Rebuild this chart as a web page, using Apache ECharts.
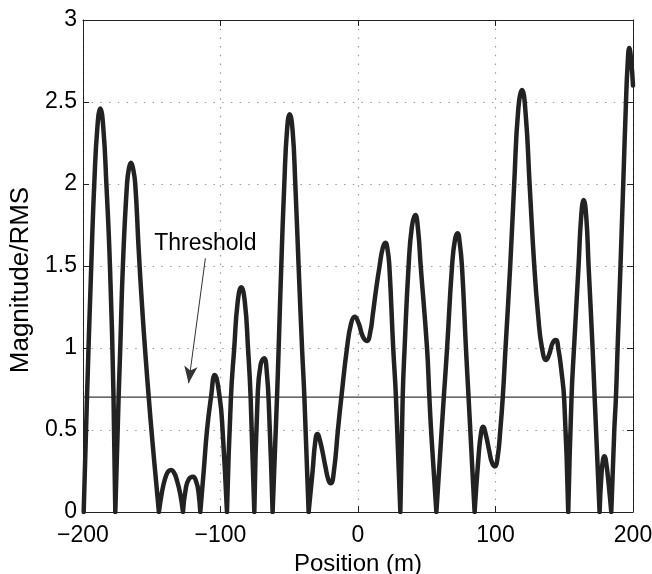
<!DOCTYPE html>
<html><head><meta charset="utf-8">
<script src="https://cdn.jsdelivr.net/npm/echarts@6/dist/echarts.min.js"></script>
<style>html,body{margin:0;padding:0;background:#fff}#c{width:652px;height:574px}</style>
</head><body><div id="c"></div>
<script>
// ---- data ----
const positions = [
  -199.5,-197.1,-194.0,-191.8,-189.5,-187.4,-185.3,-183.0,-180.4,-177.8,-176.5,
  -174.1,-172.9,-171.0,-168.0,-166.5,-165.1,-163.5,-162.0,-159.5,-157.0,-154.5,-152.0,-149.5,-147.0,-144.8,
  -142.6,-140.4,-138.2,-136.0,-133.8,-131.6,-129.4,-127.3,
  -125.3,-123.0,-120.0,-117.5,-116.0,-114.7,
  -112.2,-109.8,-106.9,-104.2,-100.6,-98.5,-95.3,
  -92.4,-90.0,-87.5,-84.9,-82.3,-80.0,-78.1,-75.4,
  -73.0,-70.8,-68.3,-66.3,-64.6,-62.1,
  -58.9,-57.7,-55.8,-53.6,-51.6,-49.7,-47.6,-45.6,-43.2,-40.7,-39.0,-35.9,
  -33.0,-31.2,-29.6,-27.2,-23.8,-21.5,-19.8,-17.5,-14.6,-12.1,-8.0,-5.0,-2.4,0.5,3.5,6.5,9.0,10.7,13.2,15.7,18.0,19.9,21.5,22.8,25.6,27.6,30.8,
  32.5,33.9,36.8,39.2,41.7,43.7,45.6,50.2,51.9,53.5,57.0,
  59.7,62.4,64.8,68.4,70.5,72.4,74.0,75.6,78.5,80.4,84.8,
  87.5,89.3,91.0,93.0,95.5,97.5,99.5,101.5,103.5,105.3,107.3,110.7,113.6,116.5,119.3,122.0,124.8,128.2,131.0,133.8,136.9,139.0,141.5,143.9,145.8,147.8,150.0,152.9,
  155.3,157.1,160.4,162.3,164.1,166.0,167.7,170.6,172.1,175.7,
  177.0,178.2,179.3,180.5,182.3,184.2,
  186.4,187.6,188.8,190.9,192.9,194.9,196.1,197.3,198.6,200.0
];
const magnitudes = [
  0,0.7,1.5,2.0,2.35,2.46,2.35,2.0,1.5,0.7,0,
  0.7,1.0,1.5,2.0,2.1,2.13,2.09,2.0,1.6,1.25,0.95,0.68,0.43,0.2,0,
  0.12,0.2,0.245,0.256,0.24,0.19,0.115,0,
  0.14,0.2,0.215,0.18,0.12,0,
  0.25,0.5,0.7,0.835,0.7,0.5,0,
  0.7,1.0,1.28,1.37,1.28,1.0,0.7,0,
  0.7,0.9,0.937,0.85,0.6,0,
  0.7,1.0,1.5,2.0,2.33,2.425,2.33,2.0,1.5,1.0,0.7,0,
  0.25,0.42,0.476,0.42,0.28,0.195,0.175,0.25,0.5,0.7,1.0,1.15,1.19,1.15,1.07,1.043,1.1,1.2,1.36,1.5,1.61,1.642,1.6,1.5,1.0,0.7,0,
  0.7,1.0,1.5,1.74,1.811,1.72,1.5,1.0,0.7,0.45,0,
  0.35,0.7,1.0,1.5,1.66,1.70,1.64,1.5,1.0,0.7,0,
  0.32,0.47,0.52,0.47,0.37,0.3,0.278,0.33,0.5,0.7,1.0,1.5,2.0,2.45,2.573,2.42,2.0,1.5,1.2,1.0,0.927,0.96,1.03,1.049,0.99,0.87,0.68,0,
  0.7,1.0,1.5,1.8,1.902,1.8,1.5,1.0,0.7,0,
  0.22,0.32,0.34,0.3,0.17,0,
  0.5,0.7,1.0,1.5,2.0,2.5,2.73,2.83,2.76,2.6
];
const xTicks = [-200, -100, 0, 100, 200];
const yTicks = [0, 0.5, 1, 1.5, 2, 2.5, 3];
const thresholdValue = 0.7;
const annotationLabel = 'Threshold';
const xTitle = 'Position (m)';
const yTitle = 'Magnitude/RMS';
// annotation placement (data coordinates)
const labelAt = [-111, 1.634];
const arrowFrom = [-111, 1.547];
const arrowTo = [-123.2, 0.785];

// ---- build series data: split the curve at its zeros so they stay sharp ----
const curve = [];
for (let i = 0; i < positions.length; i++) {
  curve.push([positions[i], magnitudes[i]]);
  if (magnitudes[i] === 0 && i > 0 && i < positions.length - 1) {
    curve.push([positions[i], '-']);
    curve.push([positions[i], magnitudes[i]]);
  }
}
const xMin = xTicks[0], xMax = xTicks[xTicks.length - 1];
const yMin = yTicks[0], yMax = yTicks[yTicks.length - 1];
const font = 'Liberation Sans, Arial, Helvetica, sans-serif';
const minus = v => String(v).replace('-', '\u2212');

const chart = echarts.init(document.getElementById('c'), null, {renderer: 'canvas'});
const frame = {show: true, onZero: false, lineStyle: {color: '#222', width: 1}};
const tick = {show: true, inside: true, length: 6, lineStyle: {color: '#222', width: 1}};
const grid = {show: true, lineStyle: {color: '#9a9a9a', width: 1.2, type: [1.5, 7.2]}};
chart.setOption({
  animation: false,
  backgroundColor: '#fff',
  grid: {left: 83, right: 19, top: 20, bottom: 62, containLabel: false, outerBoundsMode: 'none'},
  xAxis: [
    {type: 'value', min: xMin, max: xMax, interval: 100, position: 'bottom',
     axisLine: frame, axisTick: tick, splitLine: grid,
     axisLabel: {formatter: minus, fontSize: 23, color: '#000', fontFamily: font, margin: 12, showMinLabel: true, showMaxLabel: true},
     name: xTitle, nameLocation: 'middle', nameGap: 38,
     nameTextStyle: {fontSize: 24, color: '#000', fontFamily: font}},
    {type: 'value', min: xMin, max: xMax, interval: 100, position: 'top',
     axisLine: frame, axisTick: tick, splitLine: {show: false}, axisLabel: {show: false}}
  ],
  yAxis: [
    {type: 'value', min: yMin, max: yMax, interval: 0.5, position: 'left',
     axisLine: frame, axisTick: tick, splitLine: grid,
     axisLabel: {fontSize: 23, color: '#000', fontFamily: font, margin: 6, showMinLabel: true, showMaxLabel: true},
     name: yTitle, nameLocation: 'middle', nameGap: 46, nameRotate: 90,
     nameTextStyle: {fontSize: 26, color: '#000', fontFamily: font, padding: [0, 28, 0, 0]}},
    {type: 'value', min: yMin, max: yMax, interval: 0.5, position: 'right',
     axisLine: frame, axisTick: tick, splitLine: {show: false}, axisLabel: {show: false}}
  ],
  series: [
    {type: 'line', name: 'threshold', xAxisIndex: 0, yAxisIndex: 0,
     data: [[xMin, thresholdValue], [xMax, thresholdValue]],
     showSymbol: false, silent: true, z: 2,
     lineStyle: {color: '#3a3a3a', width: 1.3}},
    {type: 'line', name: 'magnitude', xAxisIndex: 0, yAxisIndex: 0,
     data: curve, smooth: 0.5, connectNulls: false, showSymbol: false, silent: true, clip: true, z: 3,
     lineStyle: {color: '#222', width: 4.5, join: 'round', cap: 'round'}},
    {type: 'line', name: 'annotation', xAxisIndex: 0, yAxisIndex: 0, data: [], silent: true, z: 4,
     markLine: {silent: true, symbol: ['none', 'arrow'], symbolSize: [10, 17],
       lineStyle: {color: '#333', width: 1, type: 'solid'}, label: {show: false},
       data: [[{coord: arrowFrom}, {coord: arrowTo}]]},
     markPoint: {silent: true, symbol: 'circle', symbolSize: 0,
       label: {show: true, position: 'inside', formatter: annotationLabel, fontSize: 23, color: '#000', fontFamily: font},
       data: [{coord: labelAt}]}}
  ]
});
</script>
</body></html>
